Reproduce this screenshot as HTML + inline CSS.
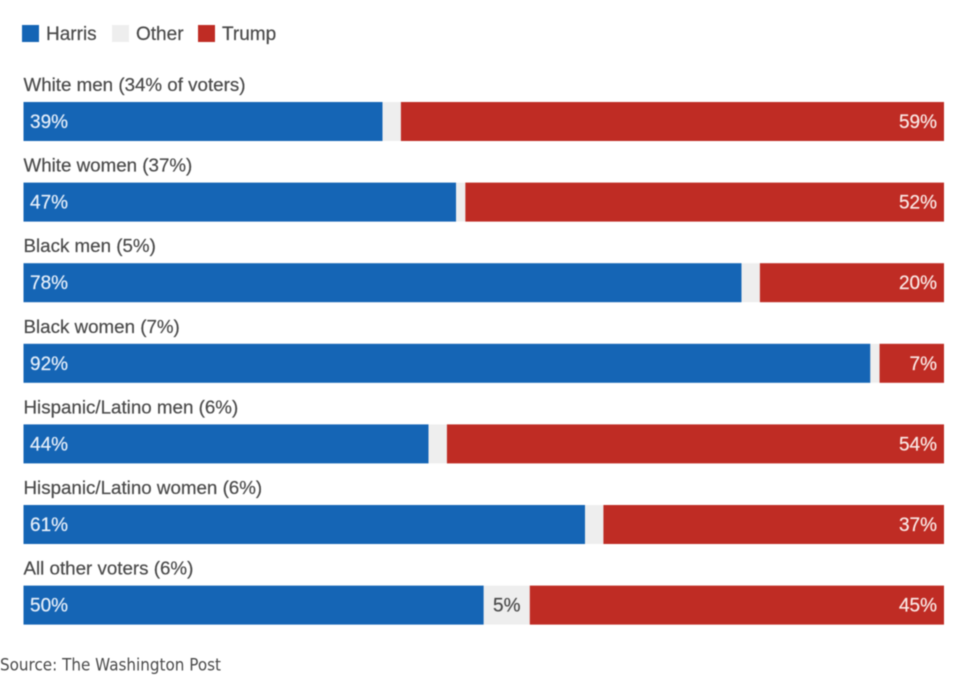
<!DOCTYPE html>
<html lang="en">
<head>
<meta charset="utf-8">
<title>Vote by race and gender</title>
<style>
html,body{margin:0;padding:0;background:#fff;width:970px;height:686px;overflow:hidden}
svg{display:block;filter:blur(0.4px)}
text{font-family:"Liberation Sans",Arial,sans-serif}
</style>
</head>
<body>
<svg id="chart" width="970" height="686" viewBox="0 0 970 686" xmlns="http://www.w3.org/2000/svg">
  <g>
    <rect x="22" y="25" width="17" height="17" fill="#1565b5"/>
    <text x="46" y="40" font-size="19" fill="#4a4a4a" stroke="#4a4a4a" stroke-width="0.2">Harris</text>
    <rect x="112" y="25" width="17" height="17" fill="#eeeeee"/>
    <text x="136" y="40" font-size="19" fill="#4a4a4a" stroke="#4a4a4a" stroke-width="0.2">Other</text>
    <rect x="198" y="25" width="17" height="17" fill="#bf2c24"/>
    <text x="222" y="40" font-size="19" fill="#4a4a4a" stroke="#4a4a4a" stroke-width="0.2">Trump</text>
  </g>
  <g id="rows"></g>
  <text x="0" y="670.5" font-size="16.5" fill="#4a4a4a" style="font-family:'DejaVu Sans','Liberation Sans',sans-serif" textLength="221" lengthAdjust="spacingAndGlyphs">Source: The Washington Post</text>
</svg>
<script>
const categories = ["White men (34% of voters)", "White women (37%)", "Black men (5%)", "Black women (7%)", "Hispanic/Latino men (6%)", "Hispanic/Latino women (6%)", "All other voters (6%)"];
const harrisValues = [39, 47, 78, 92, 44, 61, 50];
const trumpValues = [59, 52, 20, 7, 54, 37, 45];
const otherLabels = ["", "", "", "", "", "", "5%"];

const svgNS = "http://www.w3.org/2000/svg";
const rowsGroup = document.getElementById("rows");
const plotLeft = 23.5, plotRight = 944, firstBarTop = 102, rowStep = 80.6, barHeight = 39;

function xScale(pct) { return plotLeft + (plotRight - plotLeft) * pct / 100; }
function yScale(i) { return firstBarTop + rowStep * i; }

function addRect(parent, x, y, w, h, fill) {
  const r = document.createElementNS(svgNS, "rect");
  r.setAttribute("x", x);
  r.setAttribute("y", y);
  r.setAttribute("width", Math.max(0, w));
  r.setAttribute("height", h);
  r.setAttribute("fill", fill);
  parent.appendChild(r);
  return r;
}
function addText(parent, x, y, str, size, fill, anchor) {
  const t = document.createElementNS(svgNS, "text");
  t.setAttribute("x", x);
  t.setAttribute("y", y);
  t.setAttribute("font-size", size);
  t.setAttribute("fill", fill);
  t.setAttribute("stroke", fill);
  t.setAttribute("stroke-width", "0.2");
  t.setAttribute("text-anchor", anchor || "start");
  t.textContent = str;
  parent.appendChild(t);
  return t;
}

categories.forEach(function (cat, i) {
  const top = yScale(i);
  const h = harrisValues[i];
  const tr = trumpValues[i];
  const g = document.createElementNS(svgNS, "g");
  
  
  rowsGroup.appendChild(g);

  const label = addText(g, plotLeft, top - 11, cat, 18.75, "#4a4a4a");
  
  

  const harrisEnd = xScale(h);
  const trumpStart = xScale(100 - tr);

  const harrisBar = addRect(g, plotLeft, top, harrisEnd - plotLeft, barHeight, "#1565b5");
  
  

  const otherBar = addRect(g, harrisEnd, top, trumpStart - harrisEnd, barHeight, "#eeeeee");
  
  

  const trumpBar = addRect(g, trumpStart, top, plotRight - trumpStart, barHeight, "#bf2c24");
  
  

  const harrisValue = addText(g, plotLeft + 6.5, top + 26, h + "%", 19, "#e6effa");
  
  

  const trumpValue = addText(g, plotRight - 7, top + 26, tr + "%", 19, "#fae8e5", "end");
  
  

  if (otherLabels[i]) {
    const otherValue = addText(g, (harrisEnd + trumpStart) / 2, top + 26, otherLabels[i], 19, "#4a4a4a", "middle");
    
    
  }
});
</script>
</body>
</html>
